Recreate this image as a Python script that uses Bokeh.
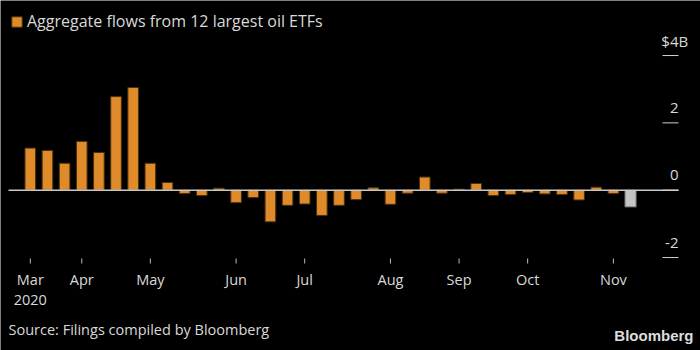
import datetime
from bokeh.plotting import figure
from bokeh.models import Range1d, Legend, LegendItem
from bokeh.core.properties import value
from bokeh.embed import file_html
from bokeh.resources import INLINE

# ---------------- data ----------------
weeks = ["2020-03-13", "2020-03-20", "2020-03-27",
         "2020-04-03", "2020-04-10", "2020-04-17", "2020-04-24",
         "2020-05-01", "2020-05-08", "2020-05-15", "2020-05-22", "2020-05-29",
         "2020-06-05", "2020-06-12", "2020-06-19", "2020-06-26",
         "2020-07-03", "2020-07-10", "2020-07-17", "2020-07-24", "2020-07-31",
         "2020-08-07", "2020-08-14", "2020-08-21", "2020-08-28",
         "2020-09-04", "2020-09-11", "2020-09-18", "2020-09-25",
         "2020-10-02", "2020-10-09", "2020-10-16", "2020-10-23", "2020-10-30",
         "2020-11-06", "2020-11-13"]
flows = [1.25, 1.18, 0.80, 1.45, 1.12, 2.78, 3.05,
         0.80, 0.23, -0.10, -0.16, 0.06,
         -0.37, -0.22, -0.94, -0.45,
         -0.41, -0.75, -0.45, -0.28, 0.07,
         -0.42, -0.09, 0.39, -0.09,
         0.03, 0.20, -0.16, -0.13,
         -0.07, -0.11, -0.13, -0.29, 0.09,
         -0.10, -0.50]
y_ticks = [-2, 0, 2, 4]
y_tick_labels = ["-2", "0", "2", "$4"]
y_unit_suffix = "B"
series_name = "Aggregate flows from 12 largest oil ETFs"
source_note = "Source: Filings compiled by Bloomberg"
brand = "Bloomberg"

# ---------------- style ----------------
BG = "#000000"
ORANGE = "#E08B2A"
ORANGE_EDGE = "#4a300e"
GRAY = "#C4C4C4"
GRAY_EDGE = "#555555"
TEXT = "#D9D9D9"
FONT = value("Open Sans")

W, H = 700, 350
PX_PER_BAR = 17.15        # horizontal pixels per week
PX_PER_UNIT = 33.67       # vertical pixels per $1B
BAR0_PX = 29.8            # screen x of first bar centre
ZERO_PX = 189.7           # screen y of zero line

x_lo = -BAR0_PX / PX_PER_BAR
x_hi = (W - BAR0_PX) / PX_PER_BAR
y_hi = ZERO_PX / PX_PER_UNIT
y_lo = -(H - ZERO_PX) / PX_PER_UNIT


def sx(px):
    return x_lo + px / PX_PER_BAR


def sy(py):
    return y_hi - py / PX_PER_UNIT


# month ticks from the week list
idx = list(range(len(weeks)))
dates = [datetime.date.fromisoformat(w) for w in weeks]
tick_pos, month_lab, year_pos, year_lab, prev = [], [], [], [], None
for i, d in enumerate(dates):
    if prev is None or d.month != prev.month:
        tick_pos.append(i)
        month_lab.append(d.strftime("%b"))
        if prev is None or d.year != prev.year:
            year_pos.append(i)
            year_lab.append(str(d.year))
    prev = d

p = figure(width=W, height=H, x_range=Range1d(x_lo, x_hi), y_range=Range1d(y_lo, y_hi),
           output_backend="svg", toolbar_location=None,
           min_border=0, min_border_left=0, min_border_right=0, min_border_top=0,
           min_border_bottom=0, background_fill_color=BG, border_fill_color=BG,
           outline_line_color=None, x_axis_location=None, y_axis_location=None)
p.grid.visible = False

# bars
r_main = p.vbar(x=idx[:-1], top=flows[:-1], width=0.62, fill_color=ORANGE,
                line_color=ORANGE_EDGE, line_width=1)
p.vbar(x=idx[-1:], top=flows[-1:], width=0.66, fill_color=GRAY,
       line_color=GRAY_EDGE, line_width=1)

# zero line
p.segment(x0=[sx(8)], x1=[sx(678)], y0=[0], y1=[0], line_color="#c8c8c8", line_width=1.5)

# y ticks + labels (right side, label above tick)
n = len(y_ticks)
p.segment(x0=[sx(662)] * n, x1=[sx(678)] * n, y0=y_ticks, y1=y_ticks,
          line_color="#cfcfcf", line_width=1)
lab_y = [t + 15 / PX_PER_UNIT for t in y_ticks]
p.text(x=[sx(678)] * n, y=lab_y, text=y_tick_labels, text_align="right",
       text_baseline="middle", text_color=TEXT, text_font=FONT,
       text_font_size=value("15px"))
p.text(x=[sx(678)], y=lab_y[-1:], text=[y_unit_suffix], text_align="left",
       text_baseline="middle", text_color=TEXT, text_font=FONT,
       text_font_size=value("15px"))

# x ticks + labels
m = len(tick_pos)
p.segment(x0=tick_pos, x1=tick_pos, y0=[sy(258)] * m, y1=[sy(263)] * m,
          line_color="#bbbbbb", line_width=1)
p.text(x=tick_pos, y=[sy(279)] * m, text=month_lab, text_align="center",
       text_baseline="middle", text_color=TEXT, text_font=FONT,
       text_font_size=value("14.5px"))
p.text(x=year_pos, y=[sy(299)] * len(year_pos), text=year_lab, text_align="center",
       text_baseline="middle", text_color=TEXT, text_font=FONT,
       text_font_size=value("14.5px"))

# source + brand
p.text(x=[sx(8)], y=[sy(329)], text=[source_note], text_align="left", text_baseline="middle",
       text_color=TEXT, text_font=FONT, text_font_size=value("14.5px"))
p.text(x=[sx(693)], y=[sy(334.5)], text=[brand], text_align="right", text_baseline="middle",
       text_color="#dddddd", text_font=value("Liberation Sans"), text_font_style="bold",
       text_font_size=value("15px"))

# legend
leg = Legend(items=[LegendItem(label=series_name, renderers=[r_main])], location="top_left",
             background_fill_alpha=0, border_line_color=None, label_text_color=TEXT,
             label_text_font="Open Sans", label_text_font_size="16px", glyph_width=13,
             glyph_height=13, label_standoff=4, padding=0, margin=10, spacing=0)
p.add_layout(leg)

open("out.html", "w").write(file_html(p, INLINE))
